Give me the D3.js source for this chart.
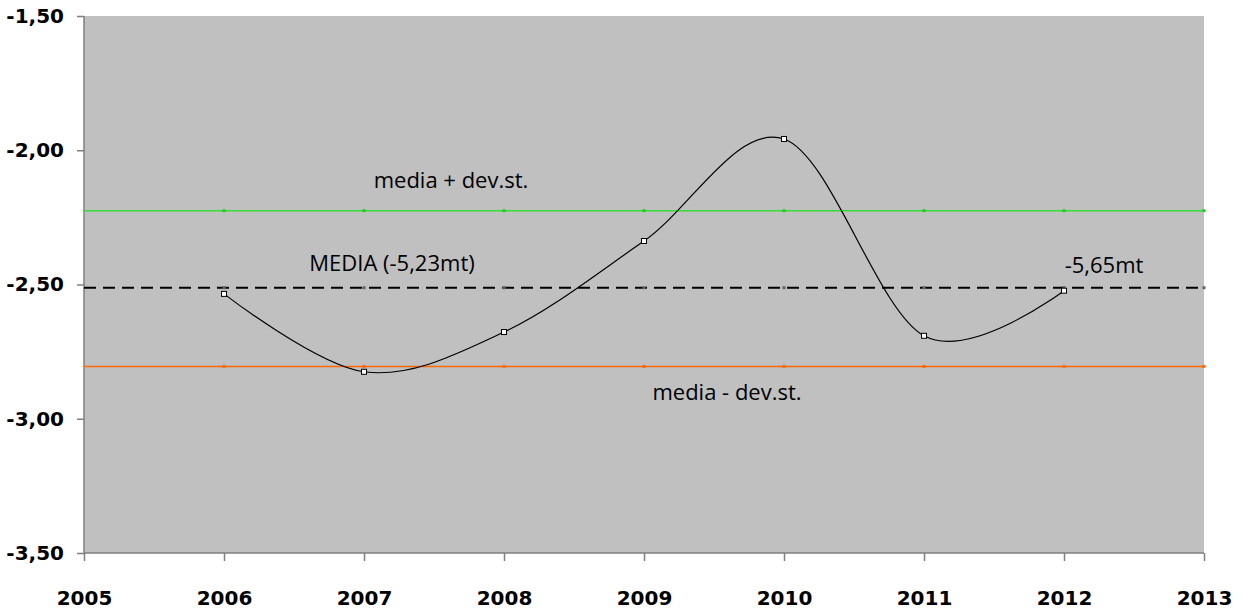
<!DOCTYPE html>
<meta charset="utf-8" />
<style>
  body { margin: 0; background: #fff; }
  text { font-family: "Open Sans", sans-serif; }
  .axis text { font-family: "DejaVu Sans", sans-serif; font-weight: bold; font-size: 20px; fill: #000; }
</style>
<svg width="1243" height="614"></svg>
<script src="https://d3js.org/d3.v7.min.js"></script>
<script>
    var svg = d3.select("svg");

    // dati
    var years = [2006, 2007, 2008, 2009, 2010, 2011, 2012];
    var values = [-2.535, -2.825, -2.677, -2.338, -1.958, -2.691, -2.523];
    var refYears = [2006, 2007, 2008, 2009, 2010, 2011, 2012, 2013];
    var mean = -2.512;
    var upper = -2.225;
    var lower = -2.805;
    var yTicks = [-1.5, -2.0, -2.5, -3.0, -3.5];
    var xTicks = [2005, 2006, 2007, 2008, 2009, 2010, 2011, 2012, 2013];

    var pLeft = 84, pRight = 1204, pTop = 16, pBottom = 553;

    var x = d3.scaleLinear().domain([2005, 2013]).range([pLeft, pRight]);
    var y = d3.scaleLinear().domain([-1.5, -3.5]).range([pTop, pBottom]);
    var fmt = function(d) { return d3.format(".2f")(d).replace(".", ",").replace("−", "-"); };

    svg.append("rect")
        .attr("x", pLeft).attr("y", pTop)
        .attr("width", pRight - pLeft).attr("height", pBottom - pTop)
        .attr("fill", "#c0c0c0");

    // assi
    var yAxis = svg.append("g").attr("class", "axis")
        .attr("transform", "translate(" + pLeft + ",0)")
        .call(d3.axisLeft(y).tickValues(yTicks).tickFormat(fmt).tickSize(7).tickPadding(13));
    var xAxis = svg.append("g").attr("class", "axis")
        .attr("transform", "translate(0," + pBottom + ")")
        .call(d3.axisBottom(x).tickValues(xTicks).tickFormat(d3.format("d")).tickSize(8).tickPadding(30));
    svg.selectAll(".axis path, .axis line").attr("stroke", "#7f7f7f").attr("stroke-width", 1.5);
    yAxis.select(".domain").attr("d", "M0," + pTop + "V" + pBottom);
    xAxis.select(".domain").attr("d", "M" + pLeft + ",0H" + pRight);

    // linee di riferimento
    var refs = [
        { v: upper, color: "#33dd33", dash: null, w: 1.5, mark: "#22cc22" },
        { v: mean, color: "#000", dash: "12,7", w: 2, mark: "#666" },
        { v: lower, color: "#ff6a00", dash: null, w: 1.5, mark: "#ff6a00" }
    ];
    refs.forEach(function(r) {
        svg.append("line")
            .attr("x1", pLeft).attr("x2", pRight)
            .attr("y1", y(r.v)).attr("y2", y(r.v))
            .attr("stroke", r.color).attr("stroke-width", r.w)
            .attr("stroke-dasharray", r.dash);
        svg.append("g").selectAll("rect")
            .data(refYears).enter().append("rect")
            .attr("x", function(d) { return x(d) - 1.5; })
            .attr("y", y(r.v) - 1.5)
            .attr("width", 3).attr("height", 3)
            .attr("fill", r.mark);
    });

    // serie
    var pts = years.map(function(d, i) { return [x(d), y(values[i])]; });
    svg.append("path")
        .attr("d", d3.line().curve(d3.curveCatmullRom.alpha(0))(pts))
        .attr("fill", "none").attr("stroke", "#000").attr("stroke-width", 1.2);
    svg.append("g").selectAll("rect")
        .data(pts).enter().append("rect")
        .attr("x", function(d) { return d[0] - 2.5; })
        .attr("y", function(d) { return d[1] - 2.5; })
        .attr("width", 5).attr("height", 5)
        .attr("fill", "#fff").attr("stroke", "#000").attr("stroke-width", 1);

    // etichette
    var labels = [
        { t: "media + dev.st.", x: 451, y: 188 },
        { t: "MEDIA (-5,23mt)", x: 392, y: 271 },
        { t: "-5,65mt", x: 1104, y: 273 },
        { t: "media - dev.st.", x: 727, y: 400 }
    ];
    svg.append("g").selectAll("text")
        .data(labels).enter().append("text")
        .attr("x", function(d) { return d.x; })
        .attr("y", function(d) { return d.y; })
        .attr("text-anchor", "middle")
        .attr("font-size", 22)
        .attr("fill", "#000")
        .text(function(d) { return d.t; });
</script>
